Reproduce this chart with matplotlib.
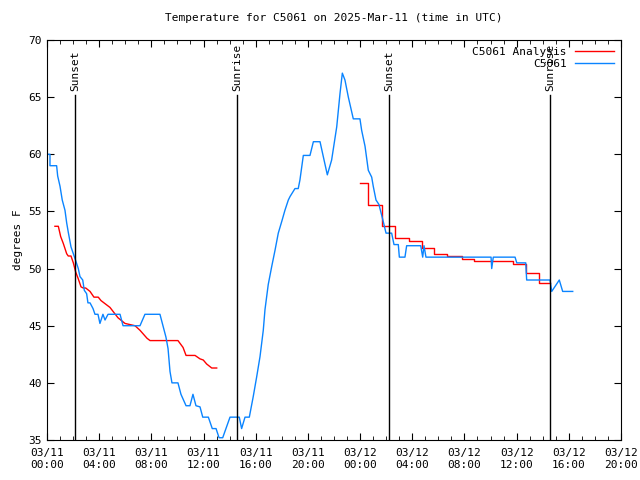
import pandas as pd
import numpy as np
import matplotlib
matplotlib.use("Agg")
import matplotlib.pyplot as plt
import matplotlib.dates as mdates

plt.rcParams['font.family'] = ['DejaVu Sans Mono']
plt.rcParams['font.size'] = 8

start = pd.Timestamp("2025-03-11 00:00")

# observed temperature, hours after 03/11 00:00 UTC
obs_hours = [0, 0.23, 0.23, 0.74, 0.82, 1.00, 1.17, 1.38, 1.51, 1.63, 1.84, 2.02, 2.20, 2.40,
             2.53, 2.74, 2.86, 3.04, 3.14, 3.30, 3.53, 3.68, 3.91, 4.06, 4.29, 4.45, 4.68,
             5.60, 5.83, 7.13, 7.51, 8.66, 8.89, 9.12, 9.28, 9.43, 9.58, 10.04, 10.27, 10.66,
             10.96, 11.19, 11.42, 11.73, 11.94, 12.37, 12.67, 12.96, 13.19, 13.47, 14.03,
             14.74, 14.92, 15.18, 15.51, 15.81, 16.07, 16.33, 16.58, 16.71, 16.96, 17.23,
             17.48, 17.73, 17.99, 18.24, 18.50, 18.63, 19.01, 19.26, 19.39, 19.65, 20.16,
             20.42, 20.93, 21.18, 21.49, 21.82, 22.21, 22.46, 22.64, 22.84, 23.10, 23.48,
             23.99, 24.12, 24.38, 24.63, 24.89, 25.01, 25.22, 25.45, 25.58, 25.78, 25.99,
             26.42, 26.60, 26.93, 27.01, 27.44, 27.57, 28.65, 28.80, 28.90, 29.05, 34.04,
             34.09, 34.21, 35.88, 36.01, 36.70, 36.77, 38.56, 38.69, 39.27, 39.53, 40.30]
obs_temp = [60, 60, 59, 59, 58.1, 57.2, 56, 55.1, 54, 53.2, 51.9, 51.3, 50.7, 50,
            49.3, 49, 48.1, 47.8, 47, 47, 46.5, 46, 46, 45.2, 46, 45.5, 46,
            46, 45, 45, 46, 46, 45, 44, 43, 41, 40, 40, 39, 38,
            38, 39, 38, 37.9, 37, 37, 36, 36, 35.2, 35.2, 37,
            37, 36, 37, 37, 38.8, 40.5, 42.3, 44.6, 46.4, 48.6, 50.2,
            51.6, 53.1, 54.1, 55.1, 56, 56.3, 57, 57, 57.75, 59.9, 59.9,
            61.1, 61.1, 59.8, 58.2, 59.5, 62.4, 65.3, 67.1, 66.5, 65, 63.1,
            63.1, 62.1, 60.7, 58.6, 58, 57.2, 56, 55.6, 55, 54.1, 53.1,
            53.1, 52.1, 52.1, 51, 51, 52, 52, 51, 52, 51, 51,
            50, 51, 51, 50.5, 50.5, 49, 49, 48, 49, 48, 48]

# analysis, first day
ana1_hours = [0.61, 0.87, 1.05, 1.25, 1.51, 1.63, 1.84, 2.02, 2.20, 2.40, 2.61, 2.78, 2.97,
              3.30, 3.60, 3.93, 4.14, 4.83, 5.44, 5.98, 6.75, 7.13, 7.67, 7.90, 9.05,
              10.04, 10.43, 10.66, 11.35, 11.73, 11.98, 12.24, 12.63, 13.01]
ana1_temp = [53.7, 53.7, 52.8, 52.2, 51.3, 51.1, 51.1, 50.5, 49.7, 49.1, 48.4, 48.3, 48.3,
             48, 47.5, 47.5, 47.2, 46.6, 45.7, 45.2, 45, 44.6, 43.9, 43.7, 43.7,
             43.7, 43.1, 42.4, 42.4, 42.1, 42, 41.65, 41.3, 41.3]

# analysis, second day (stepped)
ana2_hours = [23.99, 24.63, 25.70, 26.70, 27.75, 28.72, 29.69, 30.69, 31.79, 32.76,
              35.75, 36.72, 37.74, 38.56]
ana2_temp = [57.5, 55.6, 53.7, 52.7, 52.4, 51.8, 51.3, 51.1, 50.8, 50.7,
             50.4, 49.6, 48.7, 48.7]

sun_hours = [2.15, 14.56, 26.2, 38.56]
sun_labels = ["Sunset", "Sunrise", "Sunset", "Sunrise"]


def to_time(h):
    return start + pd.to_timedelta(np.array(h), unit="h")


fig = plt.figure(figsize=(6.4, 4.8), dpi=100)
ax = fig.add_axes([0.0734, 0.0833, 0.8969, 0.8334])

ax.plot(to_time(ana1_hours), ana1_temp, color="#ff0000", lw=1, label="C5061 Analysis")
ax.plot(to_time(ana2_hours), ana2_temp, color="#ff0000", lw=1, drawstyle="steps-post")
ax.plot(to_time(obs_hours), obs_temp, color="#0a84ff", lw=1, label="C5061")

for h, lab in zip(sun_hours, sun_labels):
    t = to_time([h])[0]
    ax.plot([t, t], [35, 65.2], color="black", lw=1)
    ax.text(t, 65.5, lab, rotation=90, ha="center", va="bottom", fontsize=8)

ax.set_xlim(start, start + pd.Timedelta(hours=44))
ax.set_ylim(35, 70)
ax.xaxis.set_major_locator(mdates.HourLocator(byhour=range(0, 24, 4)))
ax.xaxis.set_minor_locator(mdates.HourLocator())
ax.xaxis.set_major_formatter(mdates.DateFormatter("%m/%d\n%H:%M"))
ax.set_yticks(range(35, 71, 5))
ax.tick_params(direction="in", top=True, right=True, which="both", labelsize=8)
ax.tick_params(which="major", length=5)
ax.tick_params(which="minor", length=3)
ax.tick_params(axis="x", pad=6)

ax.set_ylabel("degrees F")
ax.set_title("Temperature for C5061 on 2025-Mar-11 (time in UTC)", fontsize=8, pad=14)
ax.legend(loc="upper right", frameon=False, markerfirst=False, handlelength=3.5,
          borderaxespad=0.2, labelspacing=0.2, fontsize=8)

plt.savefig("out.png", dpi=100)
